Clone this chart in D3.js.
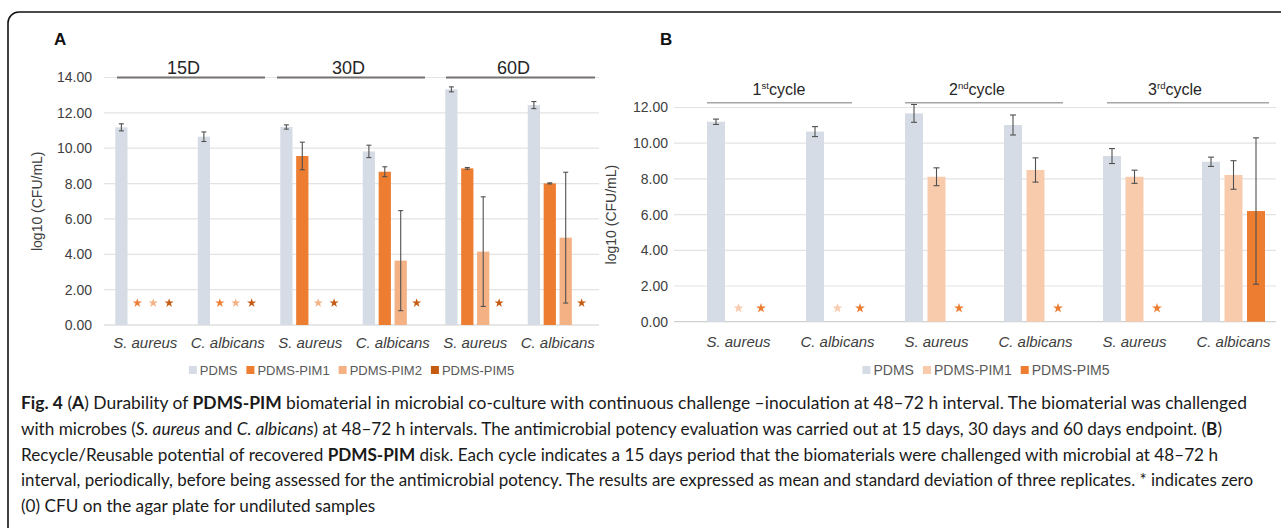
<!DOCTYPE html>
<html>
<head>
<meta charset="utf-8">
<script src="https://cdn.jsdelivr.net/npm/d3@7.8.5/dist/d3.min.js"></script>
<style>
  body { margin: 0; background: #fff; }
  svg { display: block; font-family: "Liberation Sans", Arial, sans-serif; }
</style>
</head>
<body>
<svg id="fig" width="1281" height="528"></svg>
<script>
// ---- data, panel A (durability) ----
const catsA = ["S. aureus", "C. albicans", "S. aureus", "C. albicans", "S. aureus", "C. albicans"]
const periodsA = ["15D", "30D", "60D"]
const seriesA = ["PDMS", "PDMS-PIM1", "PDMS-PIM2", "PDMS-PIM5"]
const pdmsA = [11.18, 10.65, 11.2, 9.82, 13.33, 12.44]
const pdmsA_sd = [0.2, 0.27, 0.12, 0.35, 0.14, 0.2]
const pim1A = [0, 0, 9.56, 8.67, 8.86, 8.01]
const pim1A_sd = [0, 0, 0.78, 0.28, 0.05, 0.03]
const pim2A = [0, 0, 0, 3.64, 4.15, 4.94]
const pim2A_sd = [0, 0, 0, 2.83, 3.1, 3.7]
const pim5A = [0, 0, 0, 0, 0, 0]
const pim5A_sd = [0, 0, 0, 0, 0, 0]
const ticksA = [0, 2, 4, 6, 8, 10, 12, 14]

// ---- data, panel B (recycle) ----
const catsB = ["S. aureus", "C. albicans", "S. aureus", "C. albicans", "S. aureus", "C. albicans"]
const cyclesB = [["1", "st"], ["2", "nd"], ["3", "rd"]]
const seriesB = ["PDMS", "PDMS-PIM1", "PDMS-PIM5"]
const pdmsB = [11.2, 10.65, 11.67, 11.02, 9.28, 8.96]
const pdmsB_sd = [0.15, 0.28, 0.5, 0.56, 0.42, 0.26]
const pim1B = [0, 0, 8.12, 8.5, 8.12, 8.22]
const pim1B_sd = [0, 0, 0.5, 0.68, 0.37, 0.8]
const pim5B = [0, 0, 0, 0, 0, 6.2]
const pim5B_sd = [0, 0, 0, 0, 0, 4.1]
const ticksB = [0, 2, 4, 6, 8, 10, 12]

const colorsA = ["#d6dce5", "#ed7d31", "#f4b183", "#c55a11"]
const colorsB = ["#d6dce5", "#f8cbad", "#ed7d31"]

const svg = d3.select("#fig")

// outer rounded frame
svg.append("rect")
  .attr("x", 8).attr("y", 12).attr("width", 1290).attr("height", 530)
  .attr("rx", 11).attr("fill", "none").attr("stroke", "#111").attr("stroke-width", 1.6)

function rows(cats, means, sds, series) {
  const out = []
  cats.forEach((c, i) => series.forEach((s, j) => {
    out.push({cat: i, series: s, si: j, v: means[j][i], sd: sds[j][i]})
  }))
  return out
}

function panel(o) {
  const g = svg.append("g")
  const x = d3.scaleBand().domain(d3.range(o.cats.length)).range(o.xRange)
  const xs = d3.scaleBand().domain(o.series).range([-o.groupW / 2, o.groupW / 2]).paddingInner(o.barPad)
  const y = d3.scaleLinear().domain([0, d3.max(o.ticks)]).range(o.yRange)

  // grid
  g.append("g").selectAll("line").data(o.ticks).join("line")
    .attr("x1", o.gridX[0]).attr("x2", o.gridX[1])
    .attr("y1", d => y(d)).attr("y2", d => y(d))
    .attr("stroke", d => d === 0 ? "#d0d0d0" : "#e3e3e3").attr("stroke-width", 1.2)

  // y axis labels
  const ax = g.append("g").attr("transform", `translate(${o.tickX},0)`)
    .call(d3.axisLeft(y).tickValues(o.ticks).tickFormat(d3.format(".2f")).tickSize(0).tickPadding(0))
  ax.select(".domain").remove()
  ax.selectAll("text").attr("fill", "#404040").style("font-size", o.tickFont + "px")
    .style("font-family", "'Liberation Sans', Arial, sans-serif")

  g.append("text")
    .attr("transform", `translate(${o.titleX},${(o.yRange[0] + o.yRange[1]) / 2}) rotate(-90)`)
    .attr("text-anchor", "middle").attr("dy", "0.35em")
    .attr("fill", "#404040").style("font-size", "14px")
    .text("log10 (CFU/mL)")

  const data = rows(o.cats, o.means, o.sds, o.series)
  const bx = d => x(d.cat) + x.bandwidth() / 2 + xs(d.series)

  g.append("g").selectAll("rect").data(data.filter(d => d.v > 0)).join("rect")
    .attr("x", bx).attr("width", xs.bandwidth())
    .attr("y", d => y(d.v)).attr("height", d => y(0) - y(d.v))
    .attr("fill", d => o.colors[d.si])

  // error bars
  const eb = g.append("g").attr("stroke", "#505050").attr("stroke-width", 1.1)
  const withErr = data.filter(d => d.v > 0 && d.sd > 0)
  const cx = d => bx(d) + xs.bandwidth() / 2
  eb.selectAll(".v").data(withErr).join("line")
    .attr("x1", cx).attr("x2", cx)
    .attr("y1", d => y(d.v - d.sd)).attr("y2", d => y(d.v + d.sd))
  eb.selectAll(".t").data(withErr.flatMap(d => [d.v - d.sd, d.v + d.sd].map(e => ({d, e})))).join("line")
    .attr("x1", p => cx(p.d) - o.cap).attr("x2", p => cx(p.d) + o.cap)
    .attr("y1", p => y(p.e)).attr("y2", p => y(p.e))

  // stars for zero CFU
  const star = d3.symbol().type(d3.symbolStar).size(o.starSize)
  g.append("g").selectAll("path").data(data.filter(d => d.v === 0)).join("path")
    .attr("d", star)
    .attr("transform", d => `translate(${cx(d)},${y(0) - o.starLift})`)
    .attr("fill", d => o.colors[d.si])

  // category labels
  g.append("g").selectAll("text").data(o.cats).join("text")
    .attr("x", (d, i) => x(i) + x.bandwidth() / 2).attr("y", o.labelY)
    .attr("text-anchor", "middle").attr("fill", "#404040")
    .style("font-size", "15px").style("font-style", "italic")
    .text(d => d)

  // group headers (each spans two categories)
  o.headers.forEach((h, k) => {
    const x0 = x(2 * k), x1 = x(2 * k + 1) + x.bandwidth()
    const [inL, inR] = o.hInset[k]
    g.append("line").attr("x1", x0 + inL).attr("x2", x1 - inR)
      .attr("y1", o.hLineY).attr("y2", o.hLineY)
      .attr("stroke", o.hColor).attr("stroke-width", o.hWidth)
    const t = g.append("text").attr("x", (x0 + x1) / 2 + o.hShift).attr("y", o.hTextY)
      .attr("text-anchor", "middle").attr("fill", "#262626").style("font-size", o.hFont + "px")
    if (Array.isArray(h)) {
      t.append("tspan").text(h[0])
      t.append("tspan").attr("dy", -6).style("font-size", (o.hFont * 0.6) + "px").text(h[1])
      t.append("tspan").attr("dy", 6).text("cycle")
    } else t.text(h)
  })

  // panel letter
  g.append("text").attr("x", o.letterX).attr("y", 45).style("font-size", "17px")
    .style("font-weight", "bold").attr("fill", "#111").text(o.letter)

  // legend
  const lg = g.append("g")
  let lx = 0
  o.series.forEach((s, j) => {
    lg.append("rect").attr("x", lx).attr("y", -4).attr("width", 8).attr("height", 8).attr("fill", o.colors[j])
    const tx = lg.append("text").attr("x", lx + 11).attr("dy", "0.35em").attr("fill", "#595959")
      .style("font-size", o.legendFont + "px").text(s)
    lx += 11 + tx.node().getComputedTextLength() + 9
  })
  const total = lx - 9
  const mid = (o.xRange[0] + o.xRange[1]) / 2
  lg.attr("transform", `translate(${mid - total / 2},${o.legendY})`)
}

panel({
  letter: "A", letterX: 54,
  cats: catsA, series: seriesA, colors: colorsA,
  means: [pdmsA, pim1A, pim2A, pim5A], sds: [pdmsA_sd, pim1A_sd, pim2A_sd, pim5A_sd],
  ticks: ticksA, xRange: [104, 599], yRange: [325, 77.5], gridX: [104, 599],
  groupW: 60, barPad: 0.23, cap: 2.5, starSize: 26, starLift: 22,
  tickX: 92, tickFont: 14, titleX: 37, labelY: 348,
  headers: periodsA, hInset: [[13, 4], [8, 9], [12, 4]], hLineY: 77.5, hTextY: 74, hFont: 18, hShift: -3,
  hColor: "#767171", hWidth: 2,
  legendY: 370, legendFont: 13
})

panel({
  letter: "B", letterX: 660,
  cats: catsB, series: seriesB, colors: colorsB,
  means: [pdmsB, pim1B, pim5B], sds: [pdmsB_sd, pim1B_sd, pim5B_sd],
  ticks: ticksB, xRange: [689, 1283], yRange: [321.7, 107.5], gridX: [674, 1276],
  groupW: 63, barPad: 0.2, cap: 3, starSize: 30, starLift: 13.5,
  tickX: 668, tickFont: 14, titleX: 611, labelY: 347,
  headers: cyclesB, hInset: [[18, 35], [18, 22], [22, 14]], hLineY: 102.7, hTextY: 95, hFont: 16, hShift: -9,
  hColor: "#a6a6a6", hWidth: 1.5,
  legendY: 370, legendFont: 14
})

// ---- caption ----
const capLines = [
  [["b", "Fig. 4"], ["", " ("], ["b", "A"], ["", ") Durability of "], ["b", "PDMS-PIM"], ["", " biomaterial in microbial co-culture with continuous challenge –inoculation at 48–72 h interval. The biomaterial was challenged"]],
  [["", "with microbes ("], ["i", "S. aureus"], ["", " and "], ["i", "C. albicans"], ["", ") at 48–72 h intervals. The antimicrobial potency evaluation was carried out at 15 days, 30 days and 60 days endpoint. ("], ["b", "B"], ["", ")"]],
  [["", "Recycle/Reusable potential of recovered "], ["b", "PDMS-PIM"], ["", " disk. Each cycle indicates a 15 days period that the biomaterials were challenged with microbial at 48–72 h"]],
  [["", "interval, periodically, before being assessed for the antimicrobial potency. The results are expressed as mean and standard deviation of three replicates. * indicates zero"]],
  [["", "(0) CFU on the agar plate for undiluted samples"]]
]
// right ends of the full caption lines; the last line keeps the same spacing ratio
const capEnds = [1247, 1222, 1218, 1253]
const capX = 21
const ratios = []
capLines.forEach((parts, i) => {
  const t = svg.append("text").attr("x", capX).attr("y", 409 + i * 25.8)
    .style("font-family", "Lato, 'Open Sans', sans-serif").style("font-size", "16.5px").attr("fill", "#1a1a1a")
  parts.forEach(([k, s]) => {
    const sp = t.append("tspan").text(s)
    if (k === "b") sp.style("font-weight", "bold")
    if (k === "i") sp.style("font-style", "italic")
  })
  const natural = t.node().getComputedTextLength()
  let target
  if (i < capEnds.length) {
    target = capEnds[i] - capX
    ratios.push(target / natural)
  } else {
    target = natural * d3.mean(ratios)
  }
  t.attr("textLength", target).attr("lengthAdjust", "spacingAndGlyphs")
})
</script>
</body>
</html>
